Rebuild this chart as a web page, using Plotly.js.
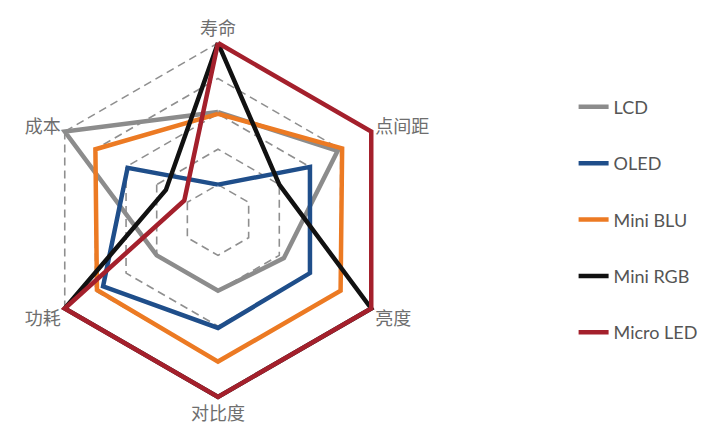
<!DOCTYPE html>
<html>
<head>
<meta charset="utf-8">
<script src="https://cdn.plot.ly/plotly-3.0.1.min.js"></script>
<style>html,body{margin:0;padding:0;background:#fff;}#chart{width:717px;height:432px;}</style>
</head>
<body>
<div id="chart"></div>
<script>
const categories = ['寿命', '点间距', '亮度', '对比度', '功耗', '成本'];
const seriesNames = ['LCD', 'OLED', 'Mini BLU', 'Mini RGB', 'Micro LED'];
const lcd      = [3.05, 3.9, 2.15, 2.0, 2.0, 5.0];
const oled     = [1.0, 3.0, 3.0, 3.05, 3.75, 2.95];
const miniBLU  = [3.0, 4.05, 4.0, 4.0, 3.95, 4.0];
const miniRGB  = [5.0, 2.0, 5.0, 5.0, 5.0, 1.7];
const microLED = [5.0, 5.0, 5.0, 5.0, 5.0, 1.1];
const seriesValues = [lcd, oled, miniBLU, miniRGB, microLED];
const colors = ['#8c8c8c', '#1f4e8a', '#ec7a23', '#111111', '#a4202c'];

const traces = seriesNames.map((name, i) => ({
  type: 'scatterpolar',
  mode: 'lines',
  name: name,
  legendgroup: 'g' + i,
  cliponaxis: false,
  r: seriesValues[i].concat([seriesValues[i][0]]),
  theta: categories.concat([categories[0]]),
  line: {color: colors[i], width: 4.5, shape: 'linear'},
  hoverinfo: 'skip'
}));

const layout = {
  width: 717, height: 432,
  margin: {l: 0, r: 0, t: 0, b: 0},
  paper_bgcolor: '#ffffff',
  plot_bgcolor: '#ffffff',
  font: {family: '"Noto Sans CJK SC", "Noto Sans", sans-serif', color: '#666666', size: 15},
  showlegend: true,
  legend: {
    x: 0.8, y: 0.795, xanchor: 'left', yanchor: 'top',
    traceorder: 'grouped',
    tracegroupgap: 30,
    font: {family: 'Lato, "Noto Sans", sans-serif', size: 18, color: '#555555'},
    itemwidth: 30,
    bgcolor: 'rgba(0,0,0,0)'
  },
  polar: {
    domain: {x: [0.0513, 0.5568], y: [0.0713, 0.9102]},
    gridshape: 'linear',
    bgcolor: '#ffffff',
    radialaxis: {
      range: [0, 5.12], tickvals: [1, 2, 3, 4, 5],
      showticklabels: false, ticks: '',
      showline: false,
      layer: 'below traces',
      gridcolor: '#8f8f8f', gridwidth: 1.6, griddash: '8px,5px'
    },
    angularaxis: {
      direction: 'clockwise', rotation: 90,
      showgrid: false, showline: false,
      layer: 'below traces',
      ticks: '',
      tickfont: {size: 18, color: '#6e6e6e'}
    }
  }
};

Plotly.newPlot('chart', traces, layout, {displayModeBar: false, staticPlot: true});
</script>
</body>
</html>
